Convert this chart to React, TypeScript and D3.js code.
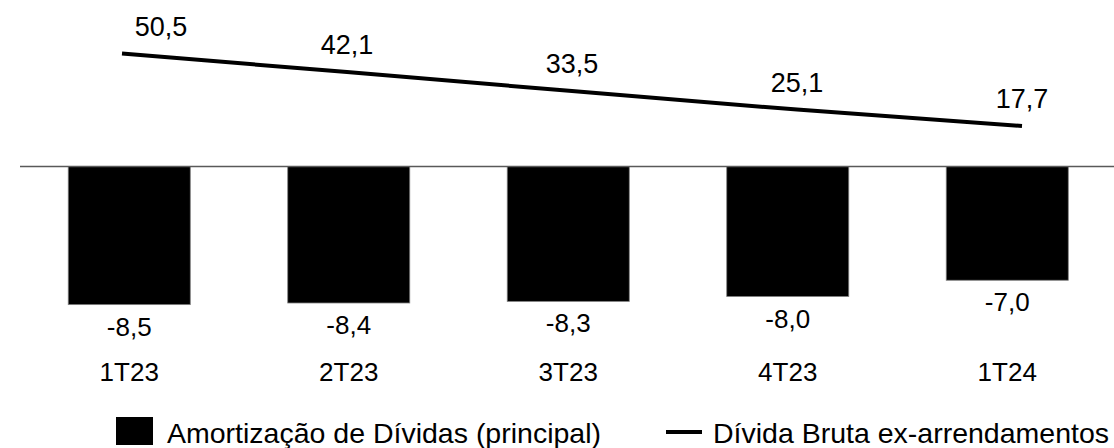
import React from "react";
import * as d3 from "d3";

const categories = ["1T23", "2T23", "3T23", "4T23", "1T24"];
const amortizacao = [-8.5, -8.4, -8.3, -8.0, -7.0];
const dividaBruta = [50.5, 42.1, 33.5, 25.1, 17.7];
const amortLabels = ["-8,5", "-8,4", "-8,3", "-8,0", "-7,0"];
const dividaLabels = ["50,5", "42,1", "33,5", "25,1", "17,7"];
const legendItems = ["Amortização de Dívidas (principal)", "Dívida Bruta ex-arrendamentos"];

const W = 1114;
const H = 448;
const FONT = "'Liberation Sans', Arial, sans-serif";

export default function App() {
  const x = d3.scaleBand<string>().domain(categories).range([19.5, 1117]).paddingInner(0.444).paddingOuter(0.222);
  const yBar = d3.scaleLinear().domain([-10, 0]).range([329, 166.5]);
  const xLine = d3.scalePoint<string>().domain(categories).range([122, 1022]);
  const yLine = d3.scaleLinear().domain([0, 60]).range([165, 32.6]);
  const line = d3
    .line<number>()
    .x((_, i) => xLine(categories[i]) as number)
    .y((d) => yLine(d));

  return (
    <svg width={W} height={H} style={{ position: "absolute", left: 0, top: 0 }} fontFamily={FONT}>
      <rect width={W} height={H} fill="#fff" />
      {amortizacao.map((v, i) => (
        <rect
          key={categories[i]}
          x={x(categories[i])}
          y={yBar(0)}
          width={x.bandwidth()}
          height={yBar(v) - yBar(0)}
          fill="#000"
          stroke="#7f7f7f"
          strokeWidth={0.8}
        />
      ))}
      <line x1={20} x2={W} y1={yBar(0)} y2={yBar(0)} stroke="#595959" strokeWidth={1.3} />
      <path d={line(dividaBruta) ?? ""} fill="none" stroke="#000" strokeWidth={4} />
      {amortizacao.map((v, i) => (
        <text
          key={"bl" + i}
          x={(x(categories[i]) as number) + x.bandwidth() / 2}
          y={yBar(v) + 31}
          textAnchor="middle"
          fontSize={26}
          fill="#000"
        >
          {amortLabels[i]}
        </text>
      ))}
      {categories.map((c) => (
        <text key={"c" + c} x={(x(c) as number) + x.bandwidth() / 2} y={381} textAnchor="middle" fontSize={26} fill="#000">
          {c}
        </text>
      ))}
      {dividaBruta.map((v, i) => (
        <text
          key={"ll" + i}
          x={(xLine(categories[i]) as number) + (i === 0 ? 39 : 0)}
          y={yLine(v) - 18}
          textAnchor="middle"
          fontSize={27}
          fill="#000"
        >
          {dividaLabels[i]}
        </text>
      ))}
      <rect x={116} y={417} width={37} height={28} fill="#000" />
      <text x={167} y={443} fontSize={28.5} fill="#000">
        {legendItems[0]}
      </text>
      <line x1={666} x2={702} y1={432} y2={432} stroke="#000" strokeWidth={4} />
      <text x={713} y={443} fontSize={28.5} fill="#000">
        {legendItems[1]}
      </text>
    </svg>
  );
}
